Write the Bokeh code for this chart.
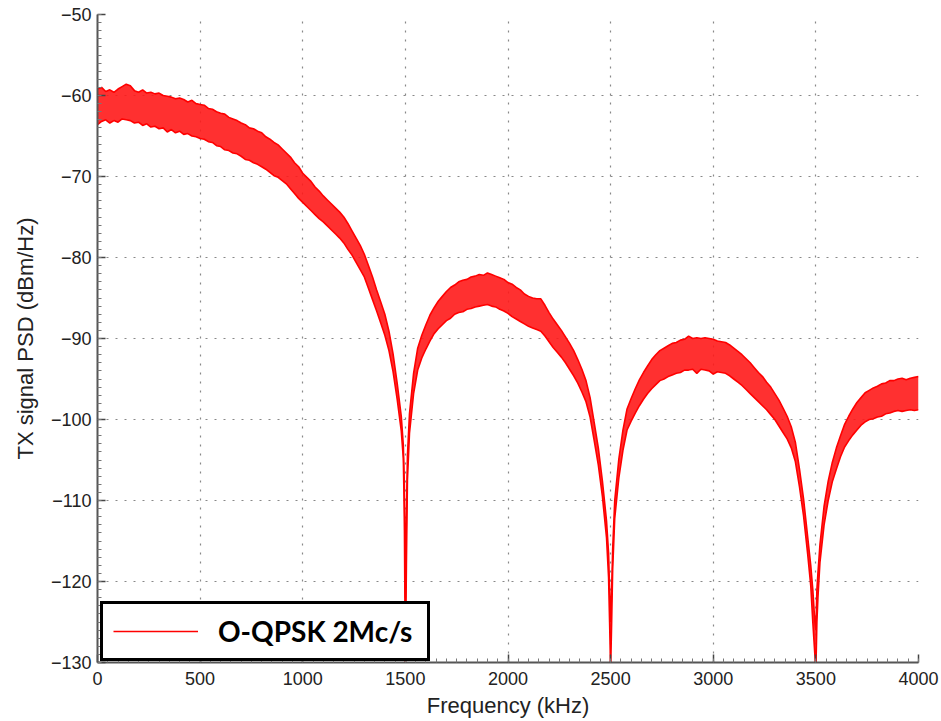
from bokeh.plotting import figure
from bokeh.models import (Range1d, SingleIntervalTicker, Legend, LegendItem,
                          ColumnDataSource)
from bokeh.embed import file_html
from bokeh.resources import INLINE

# ---- data (frequency in kHz, PSD band edges in dBm/Hz)
freq_khz = [
    0, 20, 40, 60, 80, 100, 120, 140, 160, 180, 200, 220, 240, 260, 280, 300,
    320, 340, 360, 380, 400, 420, 440, 460, 480, 500, 520, 540, 560, 580, 600,
    620, 640, 660, 680, 700, 720, 740, 760, 780, 800, 820, 840, 860, 880, 900,
    920, 940, 960, 980, 1000, 1020, 1040, 1060, 1080, 1100, 1120, 1140, 1160,
    1180, 1200, 1220, 1240, 1260, 1280, 1300, 1320, 1340, 1360, 1380, 1400,
    1420, 1440, 1460, 1480, 1490, 1495, 1500, 1505, 1510,
    1520, 1540, 1560, 1580, 1600, 1620, 1640, 1660, 1680, 1700, 1720, 1740,
    1760, 1780, 1800, 1820, 1840, 1860, 1880, 1900, 1920, 1940, 1960, 1980,
    2000, 2020, 2040, 2060, 2080, 2100, 2120, 2140, 2160, 2180, 2200, 2220,
    2240, 2260, 2280, 2300, 2320, 2340, 2360, 2380, 2400, 2420, 2440, 2460,
    2480, 2490, 2495, 2500, 2505, 2510,
    2520, 2540, 2560, 2580, 2600, 2620, 2640, 2660, 2680, 2700, 2720, 2740,
    2760, 2780, 2800, 2820, 2840, 2860, 2880, 2900, 2920, 2940, 2960, 2980,
    3000, 3020, 3040, 3060, 3080, 3100, 3120, 3140, 3160, 3180, 3200, 3220,
    3240, 3260, 3280, 3300, 3320, 3340, 3360, 3380, 3400, 3420, 3440, 3460,
    3475, 3485, 3495, 3500, 3505, 3510,
    3520, 3540, 3560, 3580, 3600, 3620, 3640, 3660, 3680, 3700, 3720, 3740,
    3760, 3780, 3800, 3820, 3840, 3860, 3880, 3900, 3920, 3940, 3960, 3980,
    4000,
]

psd_upper = [
    -59.2, -59.0, -59.5, -59.3, -59.6, -59.2, -58.9, -58.6, -58.8, -59.4, -59.6,
    -59.3, -59.7, -59.6, -59.8, -59.7, -60.0, -60.1, -60.2, -60.4, -60.3, -60.5,
    -60.8, -60.6, -61.0, -61.1, -61.2, -61.6, -61.7, -62.0, -62.2, -62.3, -62.7,
    -62.9, -63.1, -63.4, -63.6, -64.0, -64.1, -64.4, -64.6, -65.1, -65.4, -65.8,
    -66.1, -66.6, -67.1, -67.6, -68.3, -68.8, -69.6, -70.1, -70.6, -71.3, -71.8,
    -72.4, -72.9, -73.4, -73.9, -74.4, -75.0, -75.8, -76.7, -77.6, -78.5, -79.6,
    -81.0, -82.4, -84.0, -85.5, -87.0, -89.1, -91.9, -95.5, -99.6,
    -103.2, -108.0, -122.0, -112.0, -104.5,
    -99.3, -94.3, -91.2, -89.6, -88.3, -87.1, -86.2, -85.4, -84.8, -84.2, -83.7,
    -83.4, -83.0, -82.8, -82.7, -82.4, -82.3, -82.1, -82.2, -81.9, -82.1, -82.3,
    -82.5, -82.7, -83.1, -83.3, -83.7, -84.0, -84.5, -84.8, -85.0, -85.1, -85.1,
    -85.9, -86.8, -87.6, -88.3, -89.0, -89.8, -90.6, -91.5, -92.6, -93.8, -95.2,
    -97.3, -100.4, -103.5, -107.6, -112.5,
    -116.5, -121.0, -125.0, -121.0, -116.0,
    -110.0, -104.9, -101.3, -98.7, -97.4, -96.2, -95.1, -94.2, -93.4, -92.6,
    -92.0, -91.5, -91.2, -90.9, -90.6, -90.5, -90.2, -90.1, -89.7, -90.0, -89.9,
    -90.0, -89.9, -90.0, -90.1, -90.3, -90.4, -90.5, -90.8, -91.2, -91.6, -92.0,
    -92.5, -93.0, -93.6, -94.2, -94.7, -95.4, -96.0, -96.8, -97.6, -98.6, -99.6,
    -100.9, -102.8, -106.1, -109.8, -114.5,
    -118.0, -121.0, -125.0, -126.0, -121.0, -119.0,
    -115.4, -110.7, -107.6, -105.3, -103.5, -102.0, -100.6, -99.6, -98.7, -97.9,
    -97.3, -96.7, -96.4, -96.1, -95.9, -95.6, -95.5, -95.2, -95.2, -95.0, -94.9,
    -95.1, -94.9, -94.8, -94.7,
]

psd_lower = [
    -63.6, -63.2, -63.0, -63.4, -63.1, -63.3, -62.9, -63.0, -63.1, -63.4, -63.3,
    -63.7, -63.5, -63.9, -63.8, -64.1, -64.0, -64.5, -64.2, -64.6, -64.4, -64.8,
    -64.7, -65.0, -65.1, -65.3, -65.4, -65.7, -65.8, -66.2, -66.3, -66.7, -66.8,
    -67.1, -67.2, -67.5, -67.9, -68.0, -68.3, -68.5, -68.8, -69.1, -69.5, -69.9,
    -70.1, -70.5, -70.9, -71.5, -72.1, -72.7, -73.2, -73.7, -74.2, -74.7, -75.2,
    -75.6, -76.1, -76.6, -77.1, -77.6, -78.2, -79.0, -79.7, -80.6, -81.5, -82.4,
    -83.8, -85.2, -86.6, -88.1, -89.6, -91.5, -94.1, -97.5, -101.4,
    -104.8, -112.0, -131.0, -118.0, -107.5,
    -101.7, -96.8, -93.9, -92.4, -91.3, -90.3, -89.4, -88.8, -88.3, -87.8, -87.5,
    -87.0, -86.8, -86.7, -86.4, -86.3, -86.1, -86.0, -85.9, -85.8, -86.0, -86.1,
    -86.4, -86.6, -86.9, -87.3, -87.6, -87.9, -88.2, -88.5, -88.7, -88.9, -89.1,
    -89.7, -90.4, -91.1, -91.7, -92.3, -93.0, -93.8, -94.6, -95.5, -96.6, -97.8,
    -99.7, -102.6, -105.6, -109.5, -114.6,
    -119.5, -125.0, -131.0, -125.0, -118.5,
    -112.2, -107.2, -103.8, -101.3, -100.2, -99.2, -98.3, -97.5, -96.8, -96.2,
    -95.7, -95.2, -95.0, -94.7, -94.5, -94.3, -94.2, -93.9, -93.9, -93.8, -94.3,
    -93.8, -93.9, -94.0, -94.4, -94.1, -94.2, -94.3, -94.6, -95.0, -95.4, -95.8,
    -96.3, -96.8, -97.3, -97.8, -98.3, -98.8, -99.4, -100.0, -100.8, -101.6,
    -102.4, -103.5, -105.2, -108.3, -111.9, -116.6,
    -120.5, -125.0, -129.0, -131.0, -125.0, -122.0,
    -117.6, -113.0, -110.0, -107.7, -106.1, -104.6, -103.4, -102.6, -101.9,
    -101.3, -100.7, -100.3, -100.0, -99.9, -99.7, -99.6, -99.3, -99.2, -99.0,
    -98.9, -99.0, -98.9, -98.8, -98.9, -98.8,
]

series_label = "O-QPSK 2Mc/s"
x_label = "Frequency (kHz)"
y_label = "TX signal PSD (dBm/Hz)"

src = ColumnDataSource(dict(f=freq_khz, hi=psd_upper, lo=psd_lower))

p = figure(width=940, height=720, output_backend="svg", toolbar_location=None,
           x_range=Range1d(0, 4000), y_range=Range1d(-130, -50),
           min_border_left=97, min_border_top=14, min_border_right=22,
           min_border_bottom=57)
p.outline_line_color = None
p.background_fill_color = "white"

RED = "#ff0000"
p.varea(x="f", y1="lo", y2="hi", source=src, fill_color="#ff1a1a",
        fill_alpha=0.9)
r_hi = p.line(x="f", y="hi", source=src, line_color=RED, line_width=1.6)
p.line(x="f", y="lo", source=src, line_color=RED, line_width=1.6)

# axes
p.xaxis.ticker = SingleIntervalTicker(interval=500, num_minor_ticks=10)
p.yaxis.ticker = SingleIntervalTicker(interval=10, num_minor_ticks=10)
for ax in (p.xaxis[0], p.yaxis[0]):
    ax.axis_line_color = "#555555"
    ax.axis_line_width = 2
    ax.major_tick_line_color = "#444444"
    ax.major_tick_line_width = 1.5
    ax.minor_tick_line_color = "#777777"
    ax.major_tick_in = 8
    ax.major_tick_out = 0
    ax.minor_tick_in = 4
    ax.minor_tick_out = 0
    ax.major_label_text_font = "Liberation Sans"
    ax.major_label_text_font_size = "18px"
    ax.major_label_text_color = "#222222"
    ax.axis_label_text_font = "Liberation Sans"
    ax.axis_label_text_font_size = "22px"
    ax.axis_label_text_font_style = "normal"
    ax.axis_label_text_color = "#222222"
p.xaxis.axis_label = x_label
p.yaxis.axis_label = y_label
p.xaxis.major_label_standoff = 9
p.xaxis.axis_label_standoff = 5
p.yaxis.major_label_standoff = 6
p.yaxis.axis_label_standoff = 10

for g in (p.xgrid[0], p.ygrid[0]):
    g.grid_line_color = "#888888"
    g.grid_line_dash = "2 7"
    g.grid_line_width = 1.2

legend = Legend(items=[LegendItem(label=series_label, renderers=[r_hi])],
                location=(3, 1), margin=0, padding=10,
                glyph_width=85, label_standoff=20, label_width=199,
                label_text_font="Lato", label_text_font_style="bold",
                label_text_font_size="28px", label_text_color="black",
                border_line_color="black", border_line_width=3,
                border_line_alpha=1.0,
                background_fill_color="white", background_fill_alpha=1.0)
p.add_layout(legend, "center")

open("out.html", "w").write(file_html(p, INLINE))
